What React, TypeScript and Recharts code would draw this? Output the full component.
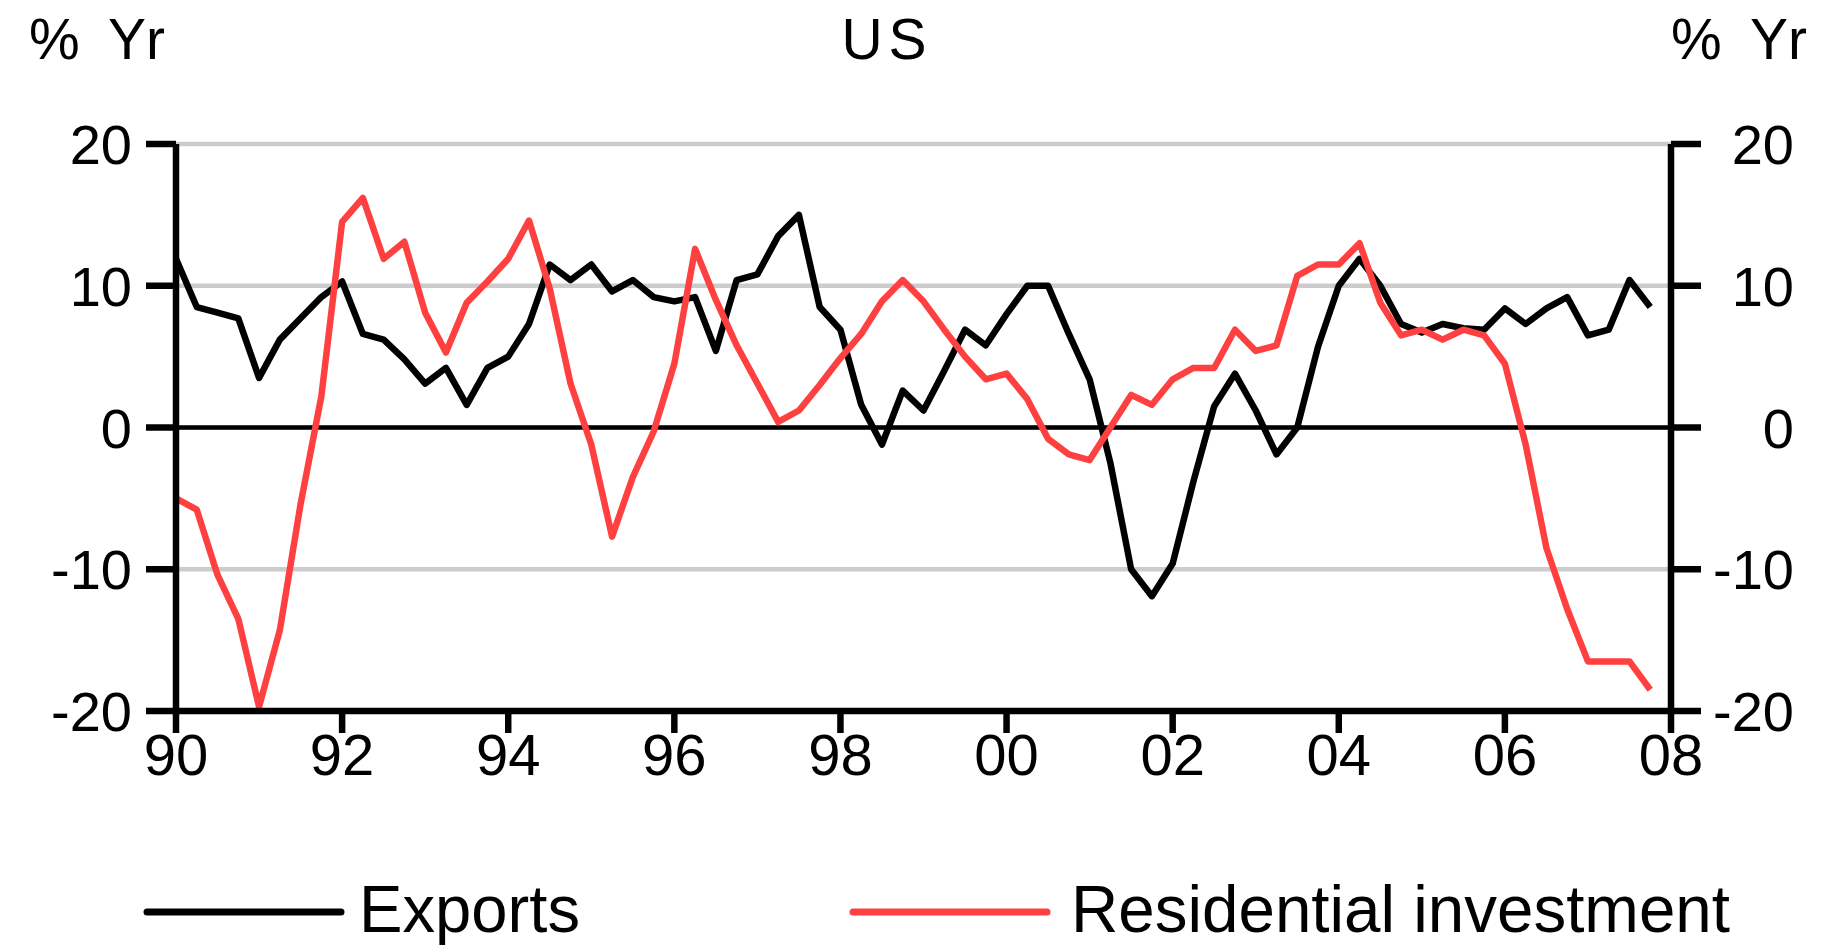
import React from "react";
import {
  LineChart,
  Line,
  XAxis,
  YAxis,
  CartesianGrid,
  ReferenceLine,
  Legend,
} from "recharts";

// Quarterly % y/y, 1990 Q1 - 2007 Q4
const exportsGrowth = [
  11.9, 8.5, 8.1, 7.7, 3.5, 6.2, 7.7, 9.2, // 90-91
  10.3, 6.6, 6.2, 4.8, 3.1, 4.2, 1.6, 4.2, // 92-93
  5.0, 7.3, 11.5, 10.4, 11.5, 9.6, 10.4, 9.2, // 94-95
  8.9, 9.2, 5.4, 10.4, 10.8, 13.5, 15.0, 8.5, // 96-97
  6.9, 1.6, -1.2, 2.6, 1.2, 4.0, 6.9, 5.8, // 98-99
  8.0, 10.0, 10.0, 6.6, 3.4, -2.5, -10.0, -11.9, // 00-01
  -9.6, -3.8, 1.5, 3.8, 1.2, -1.9, 0.0, 5.7, // 02-03
  10.0, 11.9, 10.0, 7.3, 6.7, 7.3, 7.0, 6.9, // 04-05
  8.4, 7.3, 8.4, 9.2, 6.5, 6.9, 10.4, 8.5, // 06-07
];

const residentialGrowth = [
  -5.0, -5.8, -10.4, -13.5, -19.7, -14.3, -5.4, 2.2, // 90-91
  14.5, 16.2, 11.9, 13.1, 8.1, 5.3, 8.8, 10.3, // 92-93
  11.9, 14.6, 9.8, 3.1, -1.2, -7.7, -3.5, -0.3, // 94-95
  4.5, 12.6, 9.0, 5.8, 3.1, 0.4, 1.2, 3.0, // 96-97
  4.9, 6.6, 8.9, 10.4, 8.9, 6.9, 5.0, 3.4, // 98-99
  3.8, 2.0, -0.8, -1.9, -2.3, 0.0, 2.3, 1.6, // 00-01
  3.4, 4.2, 4.2, 6.9, 5.4, 5.8, 10.7, 11.5, // 02-03
  11.5, 13.0, 8.8, 6.5, 6.9, 6.2, 6.9, 6.5, // 04-05
  4.5, -1.2, -8.5, -12.8, -16.5, -16.5, -16.5, -18.5, // 06-07
];

const yearTicks = [0, 8, 16, 24, 32, 40, 48, 56, 64, 72];
const yearLabels = ["90", "92", "94", "96", "98", "00", "02", "04", "06", "08"];
const valueTicks = [-20, -10, 0, 10, 20];

const chartData = exportsGrowth.map((v, i) => ({
  q: i,
  exports: v,
  residential: residentialGrowth[i],
}));

const FONT = "'Liberation Sans', Arial, Helvetica, sans-serif";
const RED = "#ff4040";
const AXIS = { stroke: "#000", strokeWidth: 6.5 };

function LeftTick(props: any) {
  const { x, y, payload } = props;
  return (
    <text x={x - 12} y={y} dy="0.36em" textAnchor="end" fontSize={56} fontFamily={FONT} fill="#000">
      {payload.value}
    </text>
  );
}

function RightTick(props: any) {
  const { x, y, payload } = props;
  return (
    <text x={x + 91} y={y} dy="0.36em" textAnchor="end" fontSize={56} fontFamily={FONT} fill="#000">
      {payload.value}
    </text>
  );
}

function BottomTick(props: any) {
  const { x, y, payload } = props;
  const idx = yearTicks.indexOf(payload.value);
  return (
    <text x={x} y={y} dy={40} textAnchor="middle" fontSize={58} fontFamily={FONT} fill="#000">
      {yearLabels[idx]}
    </text>
  );
}

const legendLayout = [
  { x1: 147, x2: 341, textX: 359, textW: 221 },
  { x1: 853, x2: 1047, textX: 1071, textW: 659 },
];

function renderLegend(props: any) {
  const items = (props.payload || []).filter((it: any) => it.type !== "none");
  return (
    <svg width={1845} height={90} style={{ display: "block" }}>
      {items.map((item: any, i: number) => {
        const s = legendLayout[i];
        return (
          <g key={item.value}>
            <line x1={s.x1} x2={s.x2} y1={57} y2={57} stroke={item.color} strokeWidth={7} strokeLinecap="round" />
            <text
              x={s.textX}
              y={77}
              fontSize={66}
              fontFamily={FONT}
              fill="#000"
              textLength={s.textW}
              lengthAdjust="spacingAndGlyphs"
            >
              {item.value}
            </text>
          </g>
        );
      })}
    </svg>
  );
}

function UnitLabel({ x }: { x: number }) {
  return (
    <text y={59} fontSize={57} fontFamily={FONT} fill="#000">
      <tspan x={x}>%</tspan>
      <tspan x={x + 79}>Yr</tspan>
    </text>
  );
}

export default function App() {
  return (
    <div style={{ position: "absolute", left: 0, top: 0, width: 1845, height: 945, background: "#fff" }}>
      <LineChart
        width={1845}
        height={945}
        data={chartData}
        margin={{ top: 144, right: 0, bottom: 64, left: 0 }}
      >
        <CartesianGrid yAxisId="left" vertical={false} stroke="#cccccc" strokeWidth={4.5} />
        <XAxis
          dataKey="q"
          type="number"
          domain={[0, 72]}
          ticks={yearTicks}
          interval={0}
          height={80}
          tickSize={22}
          tickMargin={2}
          axisLine={AXIS}
          tickLine={AXIS}
          tick={(p: any) => <BottomTick {...p} />}
        />
        <YAxis
          yAxisId="left"
          domain={[-20, 20]}
          ticks={valueTicks}
          interval={0}
          width={176}
          tickSize={30}
          tickMargin={2}
          axisLine={AXIS}
          tickLine={AXIS}
          tick={(p: any) => <LeftTick {...p} />}
        />
        <YAxis
          yAxisId="right"
          orientation="right"
          domain={[-20, 20]}
          ticks={valueTicks}
          interval={0}
          width={174}
          tickSize={30}
          tickMargin={2}
          axisLine={AXIS}
          tickLine={AXIS}
          tick={(p: any) => <RightTick {...p} />}
        />
        <ReferenceLine yAxisId="left" y={0} stroke="#000" strokeWidth={4.5} />
        <Legend
          verticalAlign="bottom"
          content={renderLegend}
          wrapperStyle={{ left: 0, bottom: 0, width: 1845, height: 90 }}
        />
        {/* invisible series so the right-hand scale draws its ticks */}
        <Line
          yAxisId="right"
          type="linear"
          dataKey="exports"
          stroke="none"
          dot={false}
          legendType="none"
          isAnimationActive={false}
        />
        <Line
          yAxisId="left"
          type="linear"
          dataKey="exports"
          name="Exports"
          stroke="#000"
          strokeWidth={6.5}
          strokeLinejoin="round"
          dot={false}
          isAnimationActive={false}
        />
        <Line
          yAxisId="left"
          type="linear"
          dataKey="residential"
          name="Residential investment"
          stroke={RED}
          strokeWidth={6.5}
          strokeLinejoin="round"
          dot={false}
          isAnimationActive={false}
        />
      </LineChart>
      <svg
        width={1845}
        height={140}
        style={{ position: "absolute", left: 0, top: 0, pointerEvents: "none" }}
      >
        <UnitLabel x={29} />
        <text x={887} y={59} fontSize={57} fontFamily={FONT} fill="#000" textAnchor="middle" letterSpacing={6}>
          US
        </text>
        <UnitLabel x={1671} />
      </svg>
    </div>
  );
}
